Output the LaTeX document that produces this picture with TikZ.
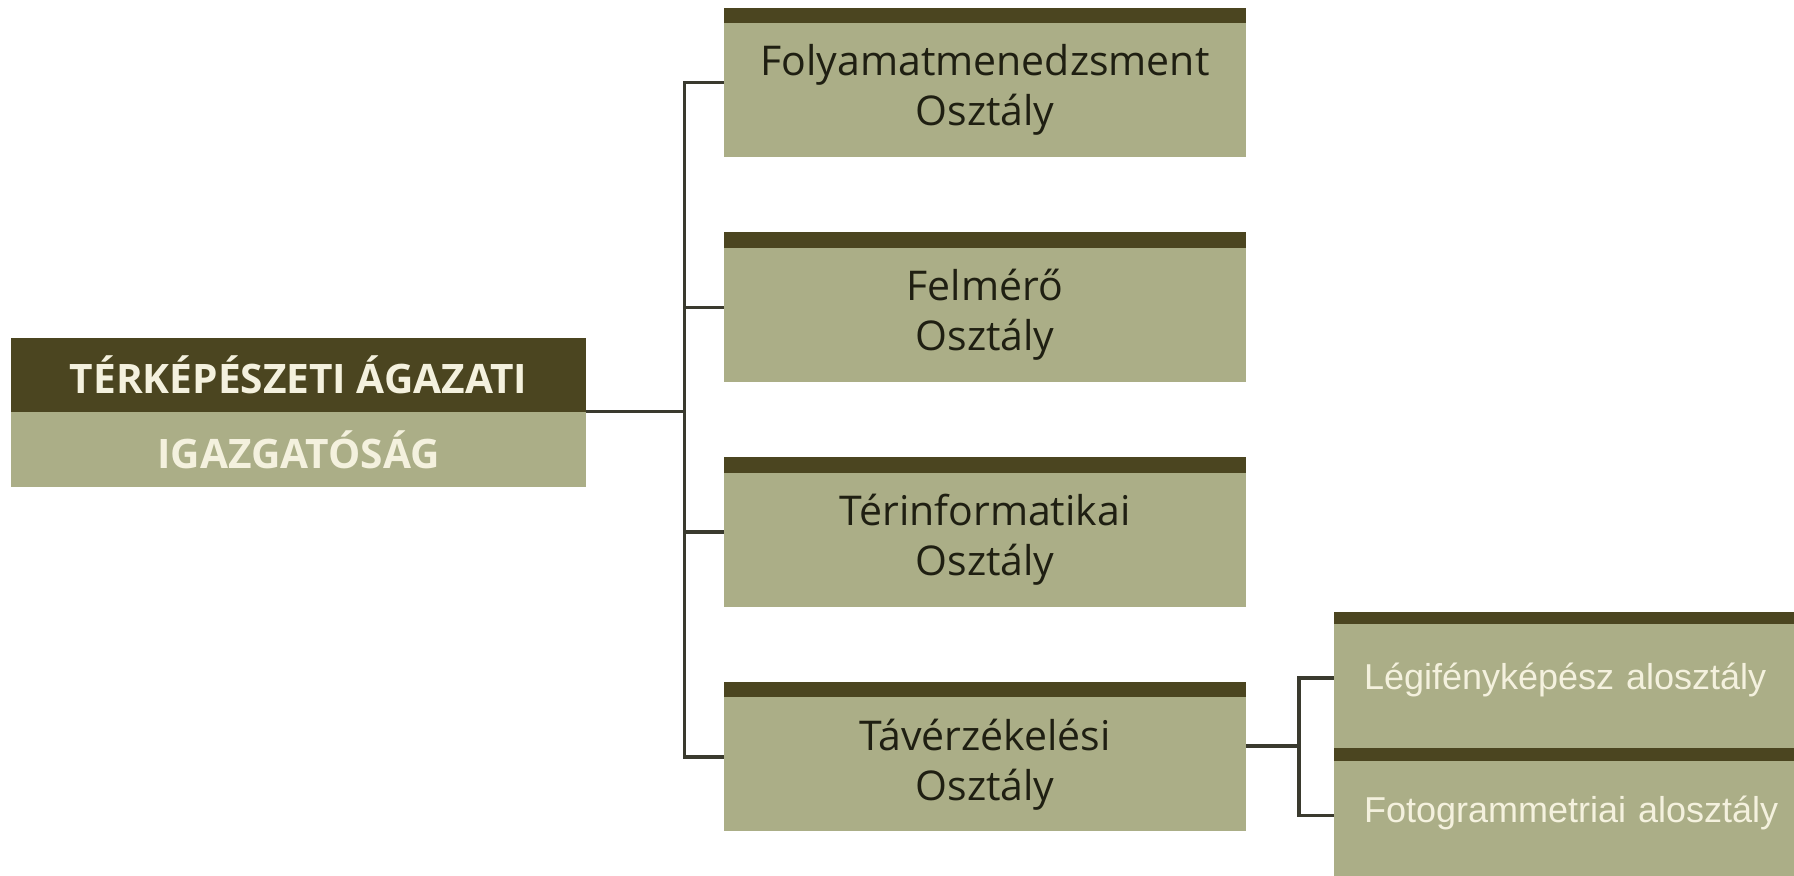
\documentclass[tikz,border=0pt]{standalone}
\usepackage{fontspec}
\setmainfont{Open Sans}
\newfontfamily\subfont{Liberation Sans}
\usetikzlibrary{positioning}
\usetikzlibrary{calc}

\definecolor{olivedark}{HTML}{4B4520}
\definecolor{olivelight}{HTML}{ABAE87}
\definecolor{inkdark}{HTML}{1F1F12}
\definecolor{cream}{HTML}{F4F1DE}
\definecolor{wire}{HTML}{3A3A2E}

\begin{document}
\begin{tikzpicture}[x=0.5pt,y=-0.5pt]
\tikzstyle{band} = [append after command={\pgfextra{\fill[olivedark] ([yshift=-0.6pt]\tikzlastnode.north west) rectangle ([yshift=#1]\tikzlastnode.north east);}}]
\tikzstyle{dept} = [rectangle, fill=olivelight, band=7.5pt, minimum width=261pt,
minimum height=67pt, align=center, text=inkdark, inner sep=0pt,
font=\fontsize{20.5}{25}\selectfont]
\tikzstyle{subdept} = [rectangle, fill=olivelight, band=6pt, minimum width=230pt,
text width=230pt, inner sep=0pt, text depth=10pt, align=left, text=cream,
execute at begin node=\hspace*{15pt}, font=\subfont\fontsize{18}{21}\selectfont]
\tikzstyle{head} = [rectangle, minimum width=287.5pt, inner sep=0pt, text=cream,
font=\fontsize{20.3}{23}\selectfont\bfseries]
\tikzstyle{link} = [draw=wire, line width=1.6pt]
\useasboundingbox (0,0) rectangle (1794,876);
% head office
\node [head, fill=olivelight, minimum height=37.5pt] (rootBot) at (298.5,449.5) {IGAZGATÓSÁG};
\node [head, fill=olivedark, minimum height=37pt, above=-0.3pt of rootBot] (rootTop) {TÉRKÉPÉSZETI ÁGAZATI};
% departments
\node [dept] (dept1) at (985,90) {Folyamatmenedzsment\\Osztály};
\node [dept, below=45pt of dept1] (dept2) {Felmérő\\Osztály};
\node [dept, below=45pt of dept2] (dept3) {Térinformatikai\\Osztály};
\node [dept, below=45pt of dept3] (dept4) {Távérzékelési\\Osztály};
% sub units
\node [subdept, minimum height=62pt] (sub1) at (1564,686) {Légifényképész alosztály};
\node [subdept, minimum height=58pt, below=6pt of sub1] (sub2) {Fotogrammetriai alosztály};
% connectors
\coordinate (bus) at ($(rootBot.north east)+(98,0)$);
\coordinate (subbus) at (1299,746);
\draw[link] (rootBot.north east) -- (bus);
\foreach \i in {1,...,4}
  \draw[link] (bus) |- ([yshift=3.75pt]dept\i.west);
\draw[link] (dept4.east |- subbus) -- (subbus);
\draw[link] (subbus) |- ([yshift=4pt]sub1.west);
\draw[link] (subbus) |- ([yshift=1.5pt]sub2.west);
\end{tikzpicture}
\end{document}
